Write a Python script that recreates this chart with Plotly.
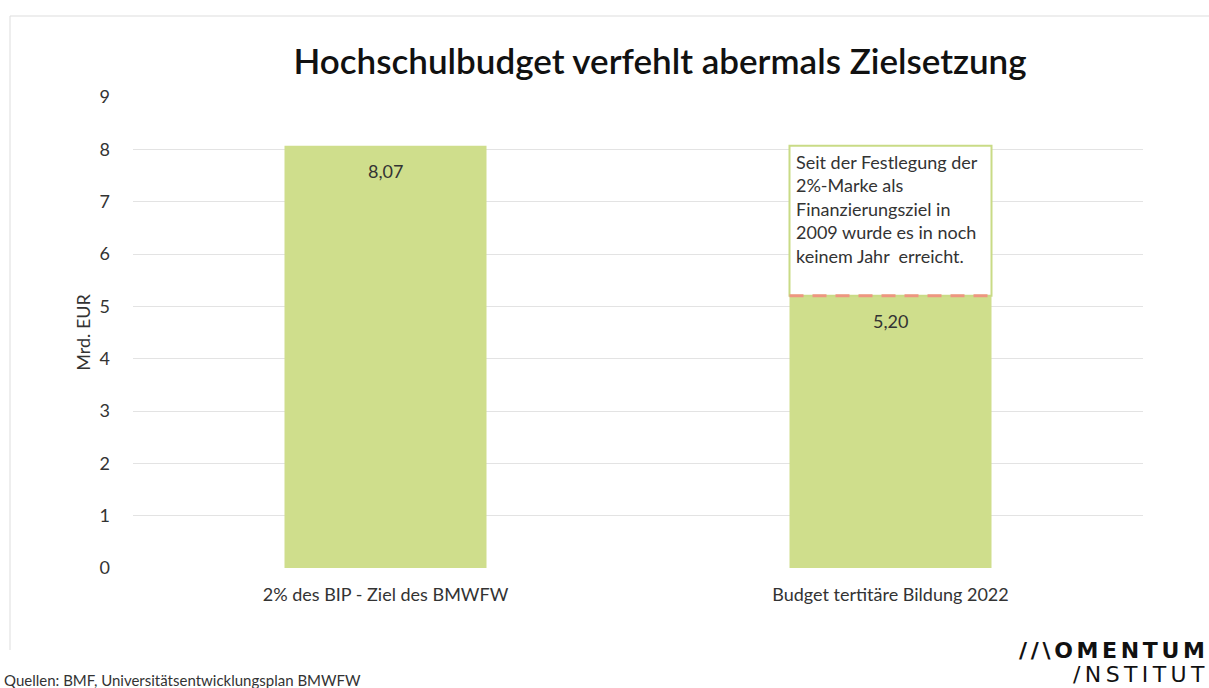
import plotly.graph_objects as go

categories = ["2% des BIP - Ziel des BMWFW", "Budget tertitäre Bildung 2022"]
values = [8.07, 5.20]
value_labels = ["8,07", "5,20"]
y_ticks = [0, 1, 2, 3, 4, 5, 6, 7, 8, 9]

BAR = "#CFDE8C"
FONT = "Lato"
TXT = "#333333"

W, H = 1209, 688
L, R, T, B = 133, 66, 97, 120
pw, ph = W - L - R, H - T - B

def px_x(x):
    return (x - L) / pw

def px_y(y):
    return (H - B - y) / ph

fig = go.Figure()
fig.add_trace(go.Bar(
    x=categories, y=values, marker=dict(color=BAR, line=dict(width=0)),
    hoverinfo="skip",
))

# annotation box over second bar, from its value up to the target
fig.add_shape(type="rect", xref="x", yref="y", x0=0.8, x1=1.2, y0=values[1], y1=values[0],
              line=dict(color="#C9DB86", width=2), fillcolor="white", layer="above")
fig.add_shape(type="line", xref="x", yref="y", x0=0.8, x1=1.2, y0=values[1], y1=values[1],
              line=dict(color="#EE9680", width=3, dash="14px,9px"), layer="above")
fig.add_annotation(xref="x", yref="y", x=0.8, y=values[0], xanchor="left", yanchor="top",
                   xshift=4, yshift=-3, showarrow=False, align="left",
                   text="Seit der Festlegung der<br>2%-Marke als<br>Finanzierungsziel in<br>2009 wurde es in noch<br>keinem Jahr  erreicht.",
                   font=dict(family=FONT, size=18, color=TXT))

# value labels inside bars
for c, v, lab in zip(categories, values, value_labels):
    fig.add_annotation(xref="x", yref="y", x=c, y=v, yanchor="top", yshift=-12, showarrow=False,
                       text=lab, font=dict(family=FONT, size=18, color=TXT))

# frame lines
fig.add_shape(type="line", xref="paper", yref="paper", x0=px_x(10), x1=px_x(1215), y0=px_y(16), y1=px_y(16),
              line=dict(color="#DDDDDD", width=1))
fig.add_shape(type="line", xref="paper", yref="paper", x0=px_x(10), x1=px_x(10), y0=px_y(16), y1=px_y(650),
              line=dict(color="#DDDDDD", width=1))

fig.add_annotation(xref="paper", yref="paper", x=px_x(2), y=px_y(680), xanchor="left", yanchor="middle",
                   showarrow=False, text="Quellen: BMF, Universitätsentwicklungsplan BMWFW",
                   font=dict(family=FONT, size=15, color=TXT))
fig.add_annotation(xref="paper", yref="paper", x=px_x(1207), y=px_y(650), xanchor="right", yanchor="middle",
                   showarrow=False, text="<b>" + "\u2006".join("//\\OMENTUM") + "</b>",
                   font=dict(family="DejaVu Sans", size=22, color="#111111"))
fig.add_annotation(xref="paper", yref="paper", x=px_x(1207), y=px_y(674), xanchor="right", yanchor="middle",
                   showarrow=False, text="\u2009".join("/NSTITUT"),
                   font=dict(family="DejaVu Sans", size=22, color="#111111"))

fig.update_layout(
    width=W, height=H, margin=dict(l=L, r=R, t=T, b=B),
    paper_bgcolor="white", plot_bgcolor="white",
    bargap=0.6, showlegend=False,
    title=dict(text="Hochschulbudget verfehlt abermals Zielsetzung", xref="container", x=660 / W,
               xanchor="center", y=1 - 62 / H, yanchor="middle",
               font=dict(family=FONT, size=35, color="#111111", weight=600)),
    font=dict(family=FONT, color=TXT),
)
fig.update_yaxes(range=[0, 9], tickvals=y_ticks, showgrid=True, gridcolor="#E3E3E3", gridwidth=1,
                 zeroline=False, showline=False, ticks="", ticklabelstandoff=22,
                 tickfont=dict(family=FONT, size=18, color=TXT),
                 title=dict(text="Mrd. EUR", font=dict(family=FONT, size=18, color=TXT), standoff=4))
fig.update_xaxes(showline=False, ticks="", ticklabelstandoff=14,
                 tickfont=dict(family=FONT, size=18, color=TXT))

fig.write_html("out.html", config={"displayModeBar": False},
               post_script="document.body.style.margin='0';document.body.style.overflow='hidden';")
